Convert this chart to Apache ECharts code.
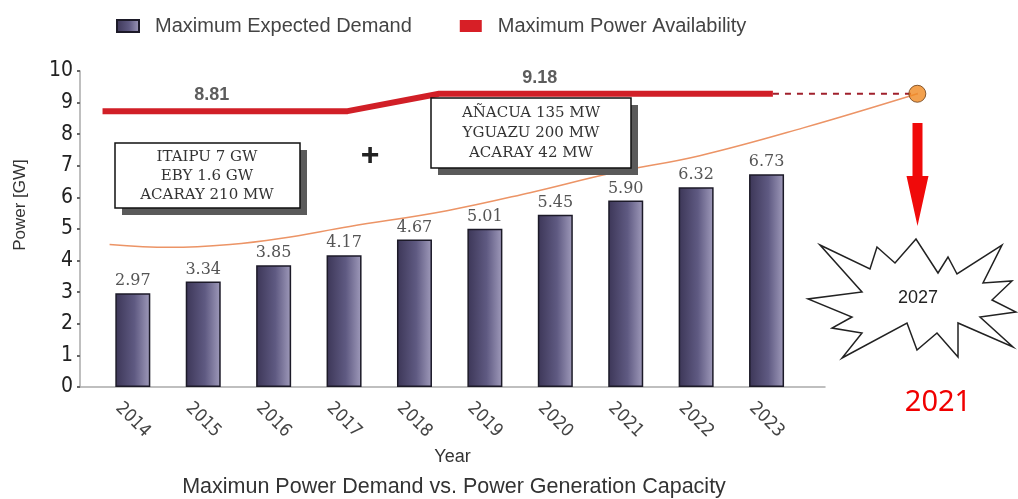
<!DOCTYPE html>
<html>
<head>
<meta charset="utf-8">
<script src="https://cdn.jsdelivr.net/npm/echarts@6/dist/echarts.min.js"></script>
<style>
	html, body { margin: 0; padding: 0; background: #fff; }
	#chartDemand { width: 1018px; height: 499px; }
</style>
</head>
<body>
<div id="chartDemand"></div>
<script>
	// demand bars
	var years = [2014, 2015, 2016, 2017, 2018, 2019, 2020, 2021, 2022, 2023]
	var demand = [2.97, 3.34, 3.85, 4.17, 4.67, 5.01, 5.45, 5.90, 6.32, 6.73]

	// red availability step line (as drawn)
	var availYears = [2013.57, 2017.05, 2018.35, 2023.09]
	var availValues = [8.73, 8.73, 9.28, 9.28]
	var availLabelYears = [2015.12, 2019.78]
	var availLabelValues = [8.73, 9.28]
	var availLabels = ['8.81', '9.18']

	// thin orange demand trend
	var trendYears = [2013.67, 2014.53, 2015.38, 2016.09, 2017.08, 2018.46, 2019.64, 2020.82, 2022.05, 2023.52, 2025.14]
	var trendValues = [4.51, 4.42, 4.51, 4.70, 5.08, 5.58, 6.15, 6.78, 7.32, 8.20, 9.28]

	// projection to crossing
	var projYears = [2023.09, 2025.14]
	var projValues = [9.28, 9.28]

	var yTicks = [0, 1, 2, 3, 4, 5, 6, 7, 8, 9, 10]

	var pair = function (xs, ys) {
		var out = []
		for (var i = 0; i < xs.length; i++) out.push([xs[i], ys[i]])
		return out
	}

	var chart = echarts.init(document.getElementById('chartDemand'))
	var barColor = new echarts.graphic.LinearGradient(0, 0, 1, 0, [
		{ offset: 0, color: '#3c3657' },
		{ offset: 0.55, color: '#5f5a82' },
		{ offset: 1, color: '#a09bbb' }
	])
	var narrow = '"Liberation Sans Narrow", "DejaVu Sans Condensed", Arial, sans-serif'
	var serif = '"DejaVu Serif", serif'
	// same px per year in both grids: 70.4
	var xMin = 2013.25

	var option = {
		animation: false,
		title: {
			text: 'Maximun Power Demand vs. Power Generation Capacity',
			left: 449,
			textAlign: 'center',
			top: 471,
			textStyle: { fontFamily: 'Arial, sans-serif', fontSize: 21.5, fontWeight: 'normal', color: '#333' }
		},
		legend: {
			data: ['Maximum Expected Demand', 'Maximum Power Availability'],
			left: 111,
			top: 11,
			icon: 'rect',
			itemWidth: 22,
			itemHeight: 12,
			itemGap: 48,
			textStyle: { fontFamily: 'Arial, sans-serif', fontSize: 20, color: '#444', padding: [0, 0, 0, 11] }
		},
		grid: [
			{ left: 80, right: 193, top: 71, bottom: 112 },
			{ left: 80, right: 88, top: 71, bottom: 112 }
		],
		xAxis: [
			{
				type: 'value',
				gridIndex: 0,
				min: xMin,
				max: 2023.83,
				name: 'Year',
				nameLocation: 'middle',
				nameGap: 58,
				nameTextStyle: { fontFamily: 'Arial, sans-serif', fontSize: 18, color: '#333' },
				axisLine: { lineStyle: { color: '#aaa', width: 1.5 } },
				axisTick: { show: false },
				splitLine: { show: false },
				axisLabel: {
					customValues: years,
					rotate: -45,
					margin: 33,
					align: 'center',
					verticalAlign: 'middle',
					fontFamily: narrow,
					fontSize: 18,
					color: '#444',
					formatter: function (v) { return String(v) }
				}
			},
			{
				type: 'value',
				gridIndex: 1,
				min: xMin,
				max: 2025.32,
				show: false,
				splitLine: { show: false }
			}
		],
		yAxis: [
			{
				type: 'value',
				gridIndex: 0,
				min: 0,
				max: 10,
				interval: 1,
				axisLine: { show: true, lineStyle: { color: '#aaa', width: 1.5 } },
				axisTick: { show: true, length: 3, lineStyle: { color: '#666', width: 2 } },
				splitLine: { show: false },
				axisLabel: {
					customValues: yTicks,
					margin: 7,
					fontFamily: narrow,
					fontSize: 21,
					color: '#222'
				}
			},
			{
				type: 'value',
				gridIndex: 1,
				min: 0,
				max: 10,
				interval: 1,
				show: false,
				splitLine: { show: false }
			}
		],
		series: [
			{
				name: 'Maximum Expected Demand',
				type: 'bar',
				barWidth: 35,
				data: pair(years, demand),
				itemStyle: { color: barColor, borderColor: '#1c1a28', borderWidth: 1.5 },
				label: {
					show: true,
					position: 'top',
					distance: 4,
					fontFamily: serif,
					fontSize: 16,
					color: '#555',
					formatter: function (p) { return p.value[1].toFixed(2) }
				},
				z: 2
			},
			{
				name: 'Maximum Power Availability',
				type: 'line',
				data: pair(availYears, availValues),
				symbol: 'none',
				itemStyle: { color: '#d71f26' },
				lineStyle: { color: '#d11f27', width: 6 },
				z: 4
			},
			{
				name: 'trend',
				type: 'line',
				xAxisIndex: 1,
				yAxisIndex: 1,
				smooth: 0.4,
				symbol: 'none',
				data: pair(trendYears, trendValues),
				lineStyle: { color: '#ec9466', width: 1.5 },
				z: 3
			},
			{
				name: 'projection',
				type: 'line',
				xAxisIndex: 1,
				yAxisIndex: 1,
				symbol: 'none',
				data: pair(projYears, projValues),
				lineStyle: { color: '#a0202c', width: 2, type: [6, 6] },
				z: 3
			},
			{
				name: 'crossing',
				type: 'scatter',
				xAxisIndex: 1,
				yAxisIndex: 1,
				symbolSize: 17,
				data: [[projYears[1], projValues[1]]],
				itemStyle: { color: '#f08a22', borderColor: '#6a3a10', borderWidth: 1 },
				z: 6
			},
			{
				name: 'availLabels',
				type: 'scatter',
				symbolSize: 0,
				data: [
					[availLabelYears[0], availLabelValues[0], availLabels[0]],
					[availLabelYears[1], availLabelValues[1], availLabels[1]]
				],
				label: {
					show: true,
					position: 'top',
					distance: 7,
					fontFamily: 'Arial, sans-serif',
					fontSize: 18,
					fontWeight: 'bold',
					color: '#333',
					formatter: function (p) { return p.value[2] }
				},
				z: 5
			}
		],
		graphic: [
			{ type: 'text', x: 20, y: 205, rotation: Math.PI / 2, style: { text: 'Power [GW]', fontFamily: 'Arial, sans-serif', fontSize: 17, fill: '#333', align: 'center', verticalAlign: 'middle' } },
			// box 1
			{ type: 'rect', shape: { x: 122, y: 150, width: 185, height: 65 }, style: { fill: '#5a5a5a' }, z: 10 },
			{ type: 'rect', shape: { x: 115, y: 143, width: 185, height: 65 }, style: { fill: '#fff', stroke: '#111', lineWidth: 1.5 }, z: 11 },
			{ type: 'text', x: 207, y: 176, z: 12, style: { text: 'ITAIPU 7 GW\nEBY 1.6 GW\nACARAY 210 MW', fontFamily: serif, fontSize: 15, lineHeight: 19, fill: '#333', align: 'center', verticalAlign: 'middle' } },
			// box 2
			{ type: 'rect', shape: { x: 438, y: 105, width: 200, height: 70 }, style: { fill: '#5a5a5a' }, z: 10 },
			{ type: 'rect', shape: { x: 431, y: 98, width: 200, height: 70 }, style: { fill: '#fff', stroke: '#111', lineWidth: 1.5 }, z: 11 },
			{ type: 'text', x: 531, y: 133, z: 12, style: { text: 'AÑACUA 135 MW\nYGUAZU 200 MW\nACARAY 42 MW', fontFamily: serif, fontSize: 15, lineHeight: 20, fill: '#333', align: 'center', verticalAlign: 'middle' } },
			{ type: 'text', x: 370, y: 156, z: 12, style: { text: '+', fontFamily: 'Arial, sans-serif', fontSize: 32, fontWeight: 'bold', fill: '#222', align: 'center', verticalAlign: 'middle' } },
			// red arrow
			{ type: 'polygon', z: 12, shape: { points: [[912.5, 123], [922.5, 123], [922.5, 176], [928.5, 176], [917.5, 226], [906.5, 176], [912.5, 176]] }, style: { fill: '#f00a0a' } },
			// starburst
			{
				type: 'polygon', z: 12,
				shape: { points: [[820, 245], [870, 269], [877, 247], [895, 263], [916, 239], [938, 273], [948, 257], [957, 274], [1002, 245], [983, 283], [1012, 281], [992, 300], [1016, 312], [980, 317], [1013, 347], [958, 323], [958, 357], [937, 333], [917, 350], [907, 323], [842, 358], [862, 333], [832, 328], [852, 317], [808, 299], [862, 292]] },
				style: { fill: '#fff', stroke: '#222', lineWidth: 1.5 }
			},
			{ type: 'text', x: 918, y: 298, z: 13, style: { text: '2027', fontFamily: 'Arial, sans-serif', fontSize: 18, fill: '#222', align: 'center', verticalAlign: 'middle' } },
			{ type: 'text', x: 938, y: 403, z: 13, style: { text: '2021', fontFamily: '"Noto Sans", "Open Sans", sans-serif', fontSize: 29, fill: '#f00000', align: 'center', verticalAlign: 'middle' } }
		]
	}
	chart.setOption(option)
</script>
</body>
</html>
